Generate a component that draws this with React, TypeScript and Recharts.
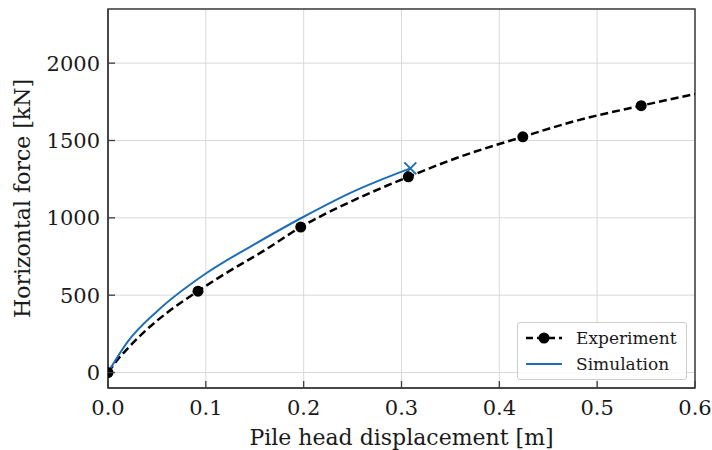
import React from "react";
import {
  ComposedChart,
  Line,
  XAxis,
  YAxis,
  CartesianGrid,
  ReferenceArea,
} from "recharts";

// experiment markers
const expX = [0, 0.092, 0.197, 0.307, 0.424, 0.545];
const expY = [0, 526, 940, 1265, 1524, 1725];

// dashed curve through the experiment
const fitX = [0, 0.01, 0.02, 0.04, 0.06, 0.092, 0.12, 0.16, 0.197, 0.25, 0.307, 0.36, 0.424, 0.48, 0.545, 0.6];
const fitY = [0, 85, 155, 280, 385, 526, 640, 790, 940, 1110, 1265, 1395, 1524, 1630, 1725, 1800];

// simulation curve
const simX = [0, 0.02, 0.05, 0.1, 0.15, 0.2, 0.25, 0.309];
const simY = [0, 198, 395, 640, 830, 1007, 1168, 1320];

const xTicks = [0, 0.1, 0.2, 0.3, 0.4, 0.5, 0.6];
const yTicks = [0, 500, 1000, 1500, 2000];

const FONT = "DejaVu Serif";
const FRAME = "#3c3c3c";
const BLUE = "#1f6eb5";
const TEXT = "#1a1a1a";

const zip = (xs: number[], ys: number[]) => xs.map((x, i) => ({ x, y: ys[i] }));

const expData = zip(expX, expY);
const fitData = zip(fitX, fitY);
const simData = zip(simX, simY);

const XTick = (props: any) => {
  const { x, y, payload } = props;
  return (
    <g>
      <line x1={x} x2={x} y1={y} y2={y - 7} stroke={FRAME} strokeWidth={1.3} />
      <text x={x} y={y + 27} textAnchor="middle" fontSize={21} fontFamily={FONT} fill={TEXT}>
        {Number(payload.value).toFixed(1)}
      </text>
    </g>
  );
};

const YTick = (props: any) => {
  const { x, y, payload } = props;
  return (
    <g>
      <line x1={x} x2={x + 7} y1={y} y2={y} stroke={FRAME} strokeWidth={1.3} />
      <text x={x - 8} y={y + 7.5} textAnchor="end" fontSize={21} fontFamily={FONT} fill={TEXT}>
        {payload.value}
      </text>
    </g>
  );
};

const SimEnd = (props: any) => {
  const { cx, cy, index } = props;
  if (index !== simData.length - 1) return <g key={`s${index}`} />;
  const d = 6;
  return (
    <path
      key={`s${index}`}
      d={`M${cx - d},${cy - d}L${cx + d},${cy + d}M${cx - d},${cy + d}L${cx + d},${cy - d}`}
      stroke={BLUE}
      strokeWidth={2}
      fill="none"
    />
  );
};

export default function App() {
  return (
    <div style={{ position: "absolute", left: 0, top: 0, width: 712, height: 450, background: "#fff" }}>
      <ComposedChart width={712} height={450} margin={{ top: 9, right: 17, bottom: 0, left: 0 }}>
        <CartesianGrid stroke="#d9d9d9" strokeWidth={1} />
        <XAxis
          dataKey="x"
          type="number"
          domain={[0, 0.6]}
          ticks={xTicks}
          allowDataOverflow
          height={62}
          tickSize={0}
          tickMargin={0}
          tick={<XTick />}
          axisLine={{ stroke: FRAME, strokeWidth: 1.5 }}
          label={{ value: "Pile head displacement [m]", position: "insideBottom", offset: 5, fontSize: 22, fontFamily: FONT, fill: TEXT }}
        />
        <YAxis
          dataKey="y"
          type="number"
          domain={[-100, 2350]}
          ticks={yTicks}
          allowDataOverflow
          width={108}
          tickSize={0}
          tickMargin={0}
          tick={<YTick />}
          axisLine={{ stroke: FRAME, strokeWidth: 1.5 }}
          label={{ value: "Horizontal force [kN]", angle: -90, position: "insideLeft", offset: 22, fontSize: 22, fontFamily: FONT, fill: TEXT, style: { textAnchor: "middle" } }}
        />
        <ReferenceArea x1={0} x2={0.6} y1={-100} y2={2350} fill="none" fillOpacity={0} stroke={FRAME} strokeWidth={1.5} />
        <Line
          data={fitData}
          dataKey="y"
          type="monotone"
          stroke="#000"
          strokeWidth={2.5}
          strokeDasharray="8 4"
          dot={false}
          isAnimationActive={false}
        />
        <Line
          data={simData}
          dataKey="y"
          type="monotone"
          stroke={BLUE}
          strokeWidth={2}
          dot={SimEnd}
          isAnimationActive={false}
        />
        <Line
          data={expData}
          dataKey="y"
          stroke="none"
          dot={{ r: 5.5, fill: "#000", stroke: "#000", strokeWidth: 0 }}
          isAnimationActive={false}
        />
      </ComposedChart>
      <div
        style={{
          position: "absolute",
          left: 517,
          top: 322,
          width: 170,
          height: 58,
          border: "1px solid #cccccc",
          borderRadius: 3,
          background: "rgba(255,255,255,0.85)",
          boxSizing: "border-box",
          fontFamily: FONT,
          fontSize: 17,
          color: TEXT,
        }}
      >
        <svg width={50} height={58} style={{ position: "absolute", left: 0, top: 0 }}>
          <line x1={8} x2={44} y1={15} y2={15} stroke="#000" strokeWidth={2.5} strokeDasharray="7 4" />
          <circle cx={26} cy={15} r={5.5} fill="#000" />
          <line x1={8} x2={44} y1={41} y2={41} stroke={BLUE} strokeWidth={2} />
        </svg>
        <div style={{ position: "absolute", left: 58, top: 4, lineHeight: "22px" }}>Experiment</div>
        <div style={{ position: "absolute", left: 58, top: 30, lineHeight: "22px" }}>Simulation</div>
      </div>
    </div>
  );
}
